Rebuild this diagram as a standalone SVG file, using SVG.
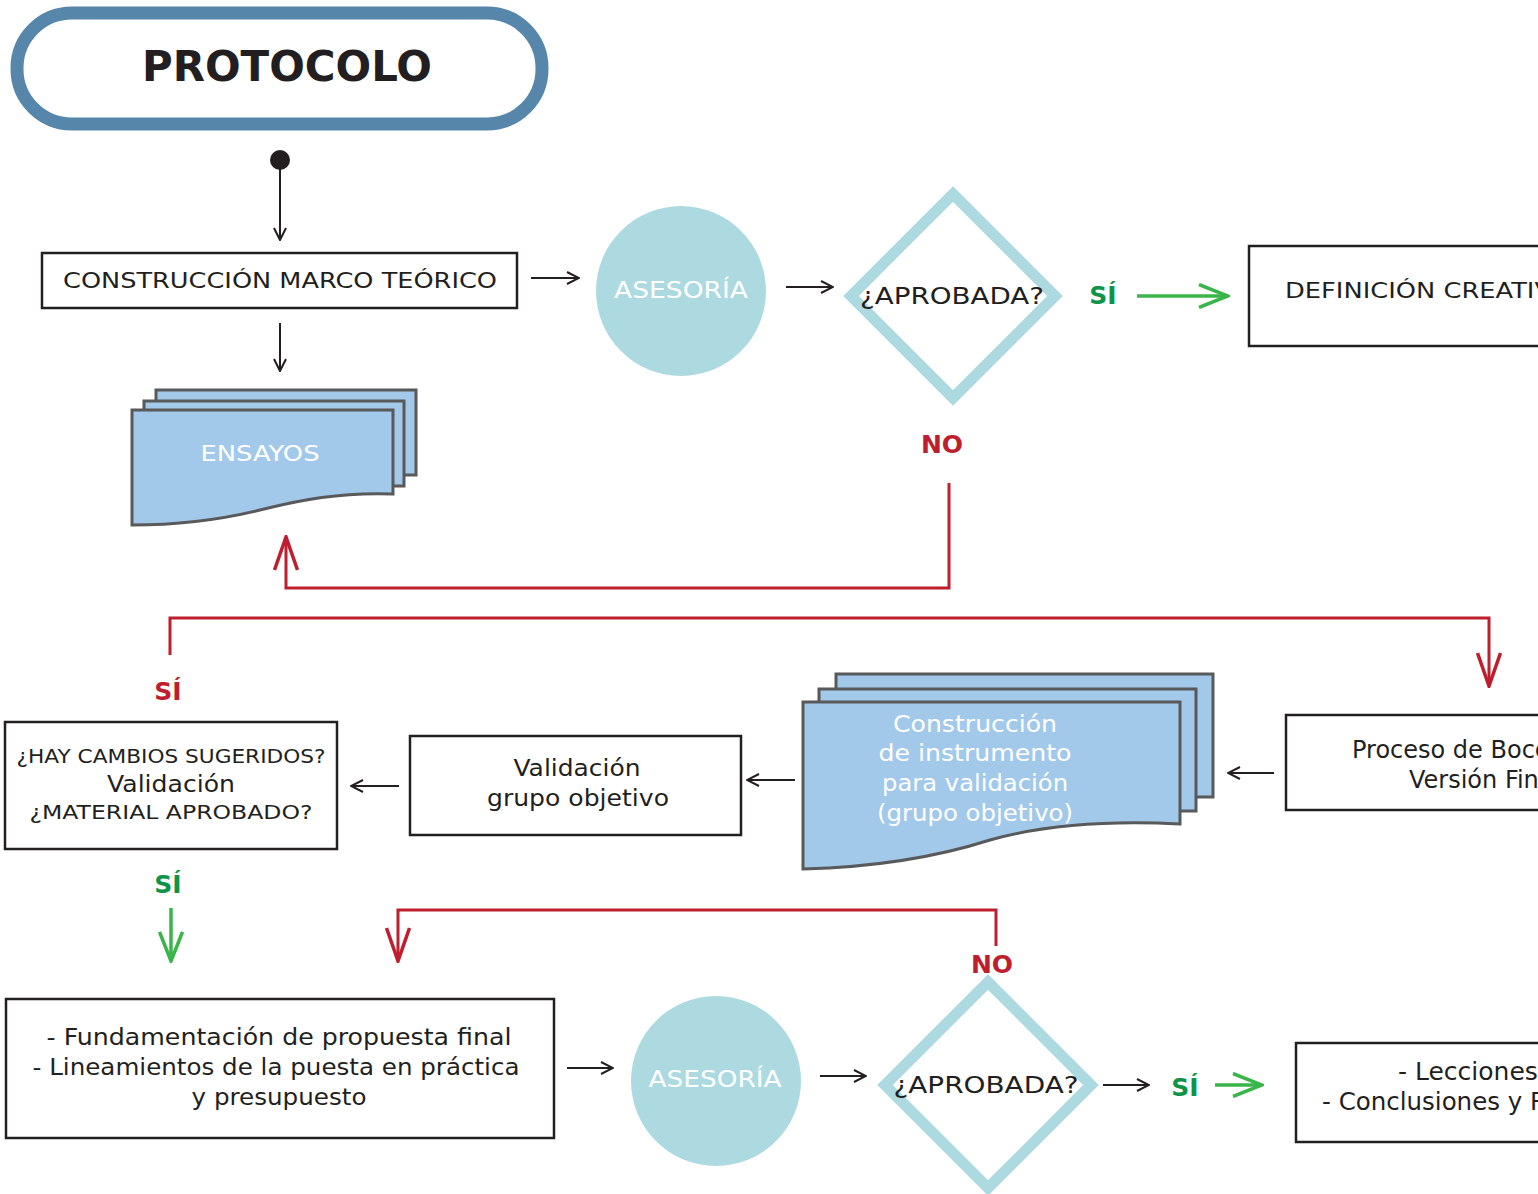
<svg xmlns="http://www.w3.org/2000/svg" width="1538" height="1194" viewBox="0 0 1538 1194">
<style>
.box{fill:#fff;stroke:#231F20;stroke-width:2.5}
.doc{fill:#A3C9EA;stroke:#58595B;stroke-width:3}
.circ{fill:#ACDAE0}
.dia{fill:none;stroke:#ACDAE0;stroke-width:11}
.t{font-family:"DejaVu Sans","Liberation Sans",sans-serif;fill:#231F20;text-anchor:middle}
.tw{font-family:"DejaVu Sans","Liberation Sans",sans-serif;fill:#fff;text-anchor:middle}
.lb{font-family:"DejaVu Sans","Liberation Sans",sans-serif;font-weight:bold;text-anchor:middle}
.st{text-anchor:start}
.bk{fill:none;stroke:#231F20;stroke-width:2}
.rd{fill:none;stroke:#BE1E2D;stroke-width:3}
.gr{fill:none;stroke:#3AB54A;stroke-width:3.5}
</style>
<defs>
<marker id="mb" viewBox="0 0 14 14" refX="13" refY="7" markerWidth="14" markerHeight="14" markerUnits="userSpaceOnUse" orient="auto"><path d="M1,1 L13,7 L1,13" fill="none" stroke="#231F20" stroke-width="2"/></marker>
<marker id="mr" viewBox="0 0 36 26" refX="34" refY="13" markerWidth="36" markerHeight="26" markerUnits="userSpaceOnUse" orient="auto"><path d="M1,1.5 L34,13 L1,24.5" fill="none" stroke="#BE1E2D" stroke-width="3.5"/></marker>
<marker id="mg" viewBox="0 0 32 26" refX="30" refY="13" markerWidth="32" markerHeight="26" markerUnits="userSpaceOnUse" orient="auto"><path d="M1,1.5 L30,13 L1,24.5" fill="none" stroke="#3AB54A" stroke-width="3.5"/></marker>
</defs>

<g id="title">
<rect x="17" y="13" width="525" height="111" rx="55" ry="55" fill="#fff" stroke="#5687AB" stroke-width="13"/>
<text x="287" y="81" class="lb" font-size="42" fill="#231F20" textLength="290" lengthAdjust="spacingAndGlyphs">PROTOCOLO</text>
</g>

<g id="start"><circle cx="280" cy="160" r="10" fill="#231F20"/></g>

<g id="marco">
<rect x="42" y="253" width="475" height="55" class="box"/>
<text x="280" y="288" class="t" font-size="22" textLength="434" lengthAdjust="spacingAndGlyphs">CONSTRUCCIÓN MARCO TEÓRICO</text>
</g>

<g id="ensayos">
<rect x="156" y="390" width="260" height="85" class="doc"/>
<rect x="144" y="401" width="260" height="85" class="doc"/>
<path d="M132,410 H393 V494 C340,492 300,500 260,510 C215,521 175,525 132,525 Z" class="doc"/>
<text x="260" y="461" class="tw" font-size="22" textLength="119" lengthAdjust="spacingAndGlyphs">ENSAYOS</text>
</g>

<g id="asesoria1">
<circle cx="681" cy="291" r="85" class="circ"/>
<text x="681" y="298" class="tw" font-size="23" textLength="134" lengthAdjust="spacingAndGlyphs">ASESORÍA</text>
</g>

<g id="aprobada1">
<path d="M953,194 L1055,296 L953,398 L851,296 Z" class="dia"/>
<text x="952" y="304" class="t" font-size="23" textLength="184" lengthAdjust="spacingAndGlyphs">¿APROBADA?</text>
</g>

<g id="definicion">
<rect x="1249" y="246" width="300" height="100" class="box"/>
<text x="1285" y="298" class="t st" font-size="22" textLength="283" lengthAdjust="spacingAndGlyphs">DEFINICIÓN CREATIVA</text>
</g>

<g id="proceso">
<rect x="1286" y="715" width="270" height="95" class="box"/>
<text x="1352" y="758" class="t st" font-size="24">Proceso de Bocetaje</text>
<text x="1409" y="788" class="t st" font-size="24">Versión Final</text>
</g>

<g id="instrumento">
<rect x="836" y="674" width="377" height="123" class="doc"/>
<rect x="819" y="689" width="377" height="122" class="doc"/>
<path d="M803,702 H1180 V824 C1100,820 1040,826 990,840 C940,856 880,867 803,869 Z" class="doc"/>
<text x="975" y="732" class="tw" font-size="23" textLength="164" lengthAdjust="spacingAndGlyphs">Construcción</text>
<text x="975" y="761" class="tw" font-size="23" textLength="193" lengthAdjust="spacingAndGlyphs">de instrumento</text>
<text x="975" y="791" class="tw" font-size="23" textLength="186" lengthAdjust="spacingAndGlyphs">para validación</text>
<text x="975" y="821" class="tw" font-size="23" textLength="196" lengthAdjust="spacingAndGlyphs">(grupo objetivo)</text>
</g>

<g id="validacion">
<rect x="410" y="736" width="331" height="99" class="box"/>
<text x="577" y="776" class="t" font-size="23" textLength="127" lengthAdjust="spacingAndGlyphs">Validación</text>
<text x="578" y="806" class="t" font-size="23" textLength="182" lengthAdjust="spacingAndGlyphs">grupo objetivo</text>
</g>

<g id="cambios">
<rect x="5" y="722" width="332" height="127" class="box"/>
<text x="171" y="763" class="t" font-size="20" textLength="309" lengthAdjust="spacingAndGlyphs">¿HAY CAMBIOS SUGERIDOS?</text>
<text x="171" y="792" class="t" font-size="23" textLength="128" lengthAdjust="spacingAndGlyphs">Validación</text>
<text x="171" y="819" class="t" font-size="20" textLength="283" lengthAdjust="spacingAndGlyphs">¿MATERIAL APROBADO?</text>
</g>

<g id="fundamentacion">
<rect x="6" y="999" width="548" height="139" class="box"/>
<text x="279" y="1045" class="t" font-size="23" textLength="465" lengthAdjust="spacingAndGlyphs">- Fundamentación de propuesta final</text>
<text x="276" y="1075" class="t" font-size="23" textLength="487" lengthAdjust="spacingAndGlyphs">- Lineamientos de la puesta en práctica</text>
<text x="279" y="1105" class="t" font-size="23" textLength="175" lengthAdjust="spacingAndGlyphs">y presupuesto</text>
</g>

<g id="asesoria2">
<circle cx="716" cy="1081" r="85" class="circ"/>
<text x="715" y="1087" class="tw" font-size="23" textLength="133" lengthAdjust="spacingAndGlyphs">ASESORÍA</text>
</g>

<g id="aprobada2">
<path d="M988,982 L1091,1085 L988,1188 L885,1085 Z" class="dia"/>
<text x="986" y="1093" class="t" font-size="23" textLength="185" lengthAdjust="spacingAndGlyphs">¿APROBADA?</text>
</g>

<g id="lecciones">
<rect x="1296" y="1043" width="260" height="99" class="box"/>
<text x="1398" y="1080" class="t st" font-size="25">- Lecciones aprendidas</text>
<text x="1322" y="1110" class="t st" font-size="24.5">- Conclusiones y Recomendaciones</text>
</g>

<g id="labels">
<text x="1103" y="304" class="lb" font-size="25" fill="#0E9447">SÍ</text>
<text x="942" y="453" class="lb" font-size="25" fill="#BE1E2D">NO</text>
<text x="168" y="700" class="lb" font-size="25" fill="#BE1E2D">SÍ</text>
<text x="168" y="893" class="lb" font-size="25" fill="#0E9447">SÍ</text>
<text x="992" y="973" class="lb" font-size="25" fill="#BE1E2D">NO</text>
<text x="1185" y="1096" class="lb" font-size="25" fill="#0E9447">SÍ</text>
</g>

<g id="connectors">
<line x1="280" y1="165" x2="280" y2="240" class="bk" marker-end="url(#mb)"/>
<line x1="280" y1="323" x2="280" y2="371" class="bk" marker-end="url(#mb)"/>
<line x1="531" y1="278" x2="579" y2="278" class="bk" marker-end="url(#mb)"/>
<line x1="786" y1="287" x2="833" y2="287" class="bk" marker-end="url(#mb)"/>
<line x1="1137" y1="296" x2="1228" y2="296" class="gr" marker-end="url(#mg)"/>
<polyline points="949,483 949,588 286,588 286,537" class="rd" marker-end="url(#mr)"/>
<polyline points="170,655 170,618 1489,618 1489,686" class="rd" marker-end="url(#mr)"/>
<line x1="1274" y1="773" x2="1228" y2="773" class="bk" marker-end="url(#mb)"/>
<line x1="795" y1="780" x2="747" y2="780" class="bk" marker-end="url(#mb)"/>
<line x1="399" y1="786" x2="351" y2="786" class="bk" marker-end="url(#mb)"/>
<line x1="171" y1="908" x2="171" y2="961" class="gr" marker-end="url(#mg)"/>
<polyline points="996,946 996,910 398,910 398,961" class="rd" marker-end="url(#mr)"/>
<line x1="567" y1="1068" x2="613" y2="1068" class="bk" marker-end="url(#mb)"/>
<line x1="820" y1="1076" x2="866" y2="1076" class="bk" marker-end="url(#mb)"/>
<line x1="1103" y1="1085" x2="1149" y2="1085" class="bk" marker-end="url(#mb)"/>
<line x1="1215" y1="1085" x2="1262" y2="1085" class="gr" marker-end="url(#mg)"/>
</g>
</svg>
